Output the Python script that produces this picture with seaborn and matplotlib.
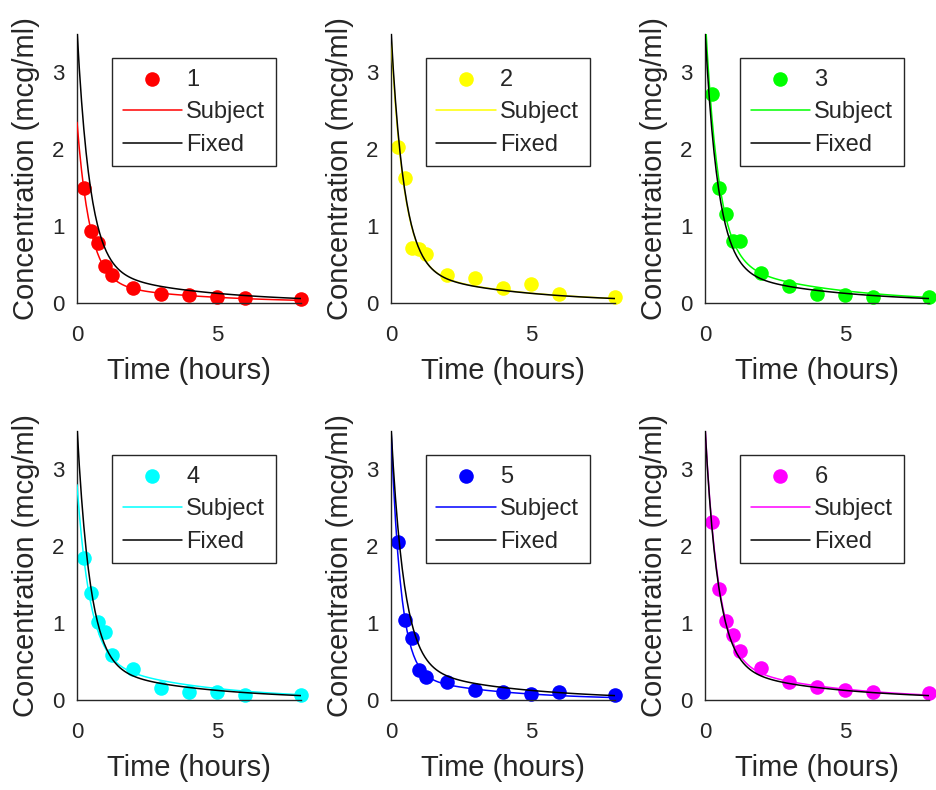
import numpy as np
import pandas as pd
import seaborn as sns
import matplotlib.pyplot as plt

# Indomethacin concentrations, six subjects
time = [0.25, 0.5, 0.75, 1, 1.25, 2, 3, 4, 5, 6, 8]
conc_1 = [1.50, 0.94, 0.78, 0.48, 0.37, 0.19, 0.12, 0.11, 0.08, 0.07, 0.05]
conc_2 = [2.03, 1.63, 0.71, 0.70, 0.64, 0.36, 0.32, 0.20, 0.25, 0.12, 0.08]
conc_3 = [2.72, 1.49, 1.16, 0.80, 0.80, 0.39, 0.22, 0.12, 0.11, 0.08, 0.08]
conc_4 = [1.85, 1.39, 1.02, 0.89, 0.59, 0.40, 0.16, 0.11, 0.10, 0.07, 0.07]
conc_5 = [2.05, 1.04, 0.81, 0.39, 0.30, 0.23, 0.13, 0.11, 0.08, 0.10, 0.06]
conc_6 = [2.31, 1.44, 1.03, 0.84, 0.64, 0.42, 0.24, 0.17, 0.13, 0.10, 0.09]
concentrations = [conc_1, conc_2, conc_3, conc_4, conc_5, conc_6]

subject_labels = ['1', '2', '3', '4', '5', '6']
subject_colors = ['#ff0000', '#ffff00', '#00ff00', '#00ffff', '#0000ff', '#ff00ff']

# Fitted biexponential model A1*exp(-k1*t) + A2*exp(-k2*t), parameters [A1, k1, A2, k2]
fixed_params = [0.46, 0.26, 3.10, 2.17]
subject_params = [
    [0.27, 0.26, 2.08, 2.17],
    [0.47, 0.26, 3.00, 2.17],
    [0.58, 0.26, 3.20, 2.17],
    [0.55, 0.26, 2.25, 2.17],
    [0.35, 0.30, 3.20, 2.90],
    [0.52, 0.26, 3.05, 2.17],
]

x_ticks = [0, 5]
y_ticks = [0, 1, 2, 3]
x_label = 'Time (hours)'
y_label = 'Concentration (mcg/ml)'


def model(p, t):
    return p[0] * np.exp(-p[1] * t) + p[2] * np.exp(-p[3] * t)


sns.set_style("white")
plt.rcParams['font.family'] = ['Liberation Sans', 'DejaVu Sans']
dark = (0.15, 0.15, 0.15)

tt = np.linspace(0, 8, 100)

fig = plt.figure(figsize=(9.36, 7.9), dpi=100)
lefts = [0.0823, 0.4177, 0.7532]
bottoms = [0.6165, 0.1139]
w, h = 0.2393, 0.3405

for i in range(6):
    ax = fig.add_axes([lefts[i % 3], bottoms[i // 3], w, h])
    pts = pd.DataFrame({'time': time, 'conc': concentrations[i]})
    fit = pd.DataFrame({'time': tt,
                        'subject': model(subject_params[i], tt),
                        'fixed': model(fixed_params, tt)})

    sns.scatterplot(data=pts, x='time', y='conc', ax=ax, color=subject_colors[i],
                    s=110, linewidth=0, label=subject_labels[i], clip_on=False, zorder=2)
    sns.lineplot(data=fit, x='time', y='subject', ax=ax, color=subject_colors[i],
                 linewidth=1.1, estimator=None, label='Subject', zorder=3)
    sns.lineplot(data=fit, x='time', y='fixed', ax=ax, color='black',
                 linewidth=1.1, estimator=None, label='Fixed', zorder=4)

    ax.set_xlim(0, 8)
    ax.set_ylim(0, 3.5)
    ax.set_xticks(x_ticks)
    ax.set_yticks(y_ticks)
    ax.tick_params(direction='in', length=4, width=0.8, colors=dark,
                   labelsize=16, labelcolor=dark)
    ax.tick_params(axis='x', pad=16)
    ax.tick_params(axis='y', pad=9)
    for s in ['top', 'right']:
        ax.spines[s].set_visible(False)
    for s in ['left', 'bottom']:
        ax.spines[s].set_color(dark)
        ax.spines[s].set_linewidth(1.0)

    ax.set_xlabel(x_label, fontsize=21, color=dark)
    ax.set_ylabel(y_label, fontsize=21, color=dark)
    ax.xaxis.set_label_coords(0.5, -0.2)
    ax.yaxis.set_label_coords(-0.165, 0.5)

    leg = ax.legend(loc='upper right', bbox_to_anchor=(0.888, 0.911), borderaxespad=0,
                    fontsize=17, frameon=True, fancybox=False, framealpha=1,
                    handlelength=2.5, handletextpad=0.2, labelspacing=0.45,
                    borderpad=0.45, markerscale=1.0)
    leg.get_frame().set_edgecolor(dark)
    leg.get_frame().set_linewidth(1.0)
    for txt in leg.get_texts():
        txt.set_color(dark)

fig.savefig('out.png', dpi=100)
